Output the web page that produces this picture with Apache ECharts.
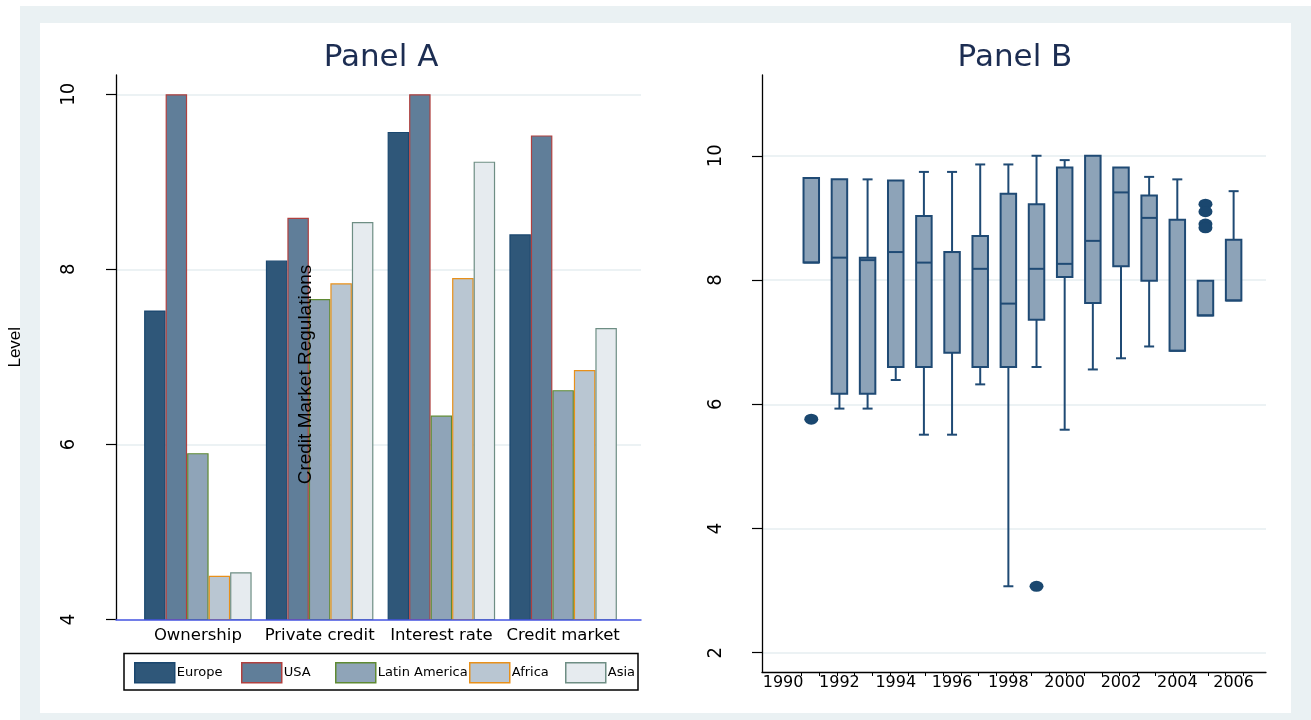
<!DOCTYPE html>
<html>
<head>
<meta charset="utf-8">
<script src="https://cdn.jsdelivr.net/npm/echarts@6.0.0/dist/echarts.min.js"></script>
<style>
html,body{margin:0;padding:0;background:#ffffff;}
#main{width:1311px;height:720px;}
</style>
</head>
<body>
<div id="main"></div>
<script>
// ---------- Panel A data ----------
const categories = ['Ownership', 'Private credit', 'Interest rate', 'Credit market'];
const regionNames = ['Europe', 'USA', 'Latin America', 'Africa', 'Asia'];
const europe = [7.53, 8.10, 9.57, 8.40];
const usa = [10.0, 8.59, 10.0, 9.53];
const latinAmerica = [5.90, 7.66, 6.33, 6.62];
const africa = [4.50, 7.84, 7.90, 6.85];
const asia = [4.54, 8.54, 9.23, 7.33];
const panelATicks = [4, 6, 8, 10];

// ---------- Panel B data (box plots by year) ----------
const years = [1991, 1992, 1993, 1994, 1995, 1996, 1997, 1998, 1999, 2000, 2001, 2002, 2003, 2004, 2005, 2006];
const lowWhisker = [8.28, 5.93, 5.93, 6.39, 5.51, 5.51, 6.32, 3.07, 6.60, 5.59, 6.56, 6.74, 6.93, 6.86, 7.43, 7.67];
const q1 = [8.28, 6.17, 6.17, 6.60, 6.60, 6.83, 6.60, 6.60, 7.36, 8.05, 7.63, 8.22, 7.99, 6.86, 7.43, 7.67];
const median = [8.28, 8.36, 8.32, 8.45, 8.28, 8.45, 8.18, 7.62, 8.18, 8.26, 8.63, 9.41, 9.00, 6.86, 7.43, 7.67];
const q3 = [9.64, 9.62, 8.36, 9.60, 9.03, 8.45, 8.71, 9.39, 9.22, 9.81, 10.0, 9.81, 9.36, 8.97, 7.99, 8.65];
const highWhisker = [9.64, 9.62, 9.62, 9.60, 9.74, 9.74, 9.86, 9.86, 10.0, 9.93, 10.0, 9.81, 9.66, 9.62, 7.99, 9.43];
const outlierYears = [1991, 1999, 2005, 2005, 2005, 2005];
const outlierValues = [5.76, 3.07, 9.22, 9.10, 8.90, 8.84];
const yearLabels = [1990, 1992, 1994, 1996, 1998, 2000, 2002, 2004, 2006];
const yearTicks = [1990.66, 1991.29, 1991.92, 1992.54, 1993.17, 1993.80, 1994.43, 1995.05, 1995.68,
  1996.31, 1996.94, 1997.56, 1998.19, 1998.82, 1999.44, 2000.07, 2000.70, 2001.33, 2001.95,
  2002.58, 2003.21, 2003.84, 2004.46, 2005.09, 2005.72, 2006.35];
const panelBTicks = [2, 4, 6, 8, 10];

// ---------- styles / layout ----------
const fills = ['#2f5779', '#607e99', '#8fa4b8', '#b9c6d2', '#e6ebef'];
const borders = ['#1a476f', '#b0403f', '#5f8a33', '#e8901a', '#6e8e84'];
const gridColor = '#e6eef0';
const frameColor = '#eaf1f3';
const boxFill = '#8da3b8';
const boxLine = '#1f4a74';
const wideFont = '"DejaVu Sans", Verdana, sans-serif';
const narrowFont = '"Liberation Sans Narrow", "DejaVu Sans Condensed", "Liberation Sans", Arial, sans-serif';
const plainFont = '"Liberation Sans", Arial, sans-serif';
const regionSeries = [europe, usa, latinAmerica, africa, asia];
const legendItemLeft = [134, 241, 335, 469, 565];

const boxData = years.map((y, i) => [y, lowWhisker[i], q1[i], median[i], q3[i], highWhisker[i]]);
const outlierData = outlierYears.map((y, i) => [y, outlierValues[i]]);

const chart = echarts.init(document.getElementById('main'), null, {renderer: 'canvas'});

const barSeries = regionNames.map((name, i) => ({
  name: name,
  type: 'bar',
  xAxisIndex: 1,
  yAxisIndex: 1,
  data: regionSeries[i],
  barGap: '0%',
  barCategoryGap: '11.7%',
  itemStyle: {color: fills[i], borderColor: borders[i], borderWidth: 1.2},
  emphasis: {disabled: true},
  z: 2
}));

const legends = regionNames.map((name, i) => ({
  left: legendItemLeft[i],
  top: 662,
  orient: 'horizontal',
  itemWidth: 40,
  itemHeight: 20,
  padding: 0,
  icon: 'rect',
  selectedMode: false,
  itemStyle: {borderWidth: 1.5},
  textStyle: {fontFamily: wideFont, fontSize: 13, color: '#000000', padding: [0, 0, 0, -3]},
  data: [name]
}));

function renderBox(params, api) {
  const x = api.value(0);
  const pLo = api.coord([x, api.value(1)]);
  const pQ1 = api.coord([x, api.value(2)]);
  const pMed = api.coord([x, api.value(3)]);
  const pQ3 = api.coord([x, api.value(4)]);
  const pHi = api.coord([x, api.value(5)]);
  const half = 7.75, cap = 5;
  const cx = pQ1[0];
  const ls = {stroke: boxLine, lineWidth: 2};
  const children = [];
  if (pLo[1] - pQ1[1] > 0.5) {
    children.push({type: 'line', shape: {x1: cx, y1: pQ1[1], x2: cx, y2: pLo[1]}, style: ls});
    children.push({type: 'line', shape: {x1: cx - cap, y1: pLo[1], x2: cx + cap, y2: pLo[1]}, style: ls});
  }
  if (pQ3[1] - pHi[1] > 0.5) {
    children.push({type: 'line', shape: {x1: cx, y1: pQ3[1], x2: cx, y2: pHi[1]}, style: ls});
    children.push({type: 'line', shape: {x1: cx - cap, y1: pHi[1], x2: cx + cap, y2: pHi[1]}, style: ls});
  }
  children.push({type: 'rect', shape: {x: cx - half, y: pQ3[1], width: half * 2, height: pQ1[1] - pQ3[1]}, style: {fill: boxFill, stroke: boxLine, lineWidth: 2}});
  children.push({type: 'line', shape: {x1: cx - half, y1: pMed[1], x2: cx + half, y2: pMed[1]}, style: ls});
  return {type: 'group', children: children};
}

const option = {
  animation: false,
  backgroundColor: '#ffffff',
  graphic: [
    {type: 'rect', silent: true, z: -10, shape: {x: 20, y: 6, width: 1291, height: 714}, style: {fill: frameColor}},
    {type: 'rect', silent: true, z: -9, shape: {x: 40, y: 23, width: 1251, height: 690}, style: {fill: '#ffffff'}},
    {type: 'rect', silent: true, z: 10, shape: {x: 124, y: 653.5, width: 514, height: 36.5}, style: {fill: 'none', stroke: '#000000', lineWidth: 1.5}},
    {type: 'text', silent: true, z: 50, x: 381, y: 58, style: {text: 'Panel A', fill: '#1c2d52', font: '31px ' + wideFont, textAlign: 'center', textVerticalAlign: 'middle'}},
    {type: 'text', silent: true, z: 50, x: 1015, y: 58, style: {text: 'Panel B', fill: '#1c2d52', font: '31px ' + wideFont, textAlign: 'center', textVerticalAlign: 'middle'}},
    {type: 'text', silent: true, z: 100, x: 306, y: 374.5, rotation: Math.PI / 2, style: {text: 'Credit Market Regulations', fill: '#000000', font: '19px ' + plainFont, textAlign: 'center', textVerticalAlign: 'middle'}}
  ],
  grid: [
    {left: 116, right: 670, top: 75, bottom: 100.5, containLabel: false, outerBoundsMode: 'none'},
    {left: 137, right: 687, top: 75, bottom: 100.5, containLabel: false, outerBoundsMode: 'none'},
    {left: 762, right: 45, top: 75, bottom: 48, containLabel: false, outerBoundsMode: 'none'}
  ],
  legend: legends,
  xAxis: [
    {
      gridIndex: 0, type: 'value', min: 0, max: 1, z: 5,
      axisLine: {show: true, onZero: false, lineStyle: {color: '#4a58e4', width: 1.5}},
      axisTick: {show: false}, axisLabel: {show: false}, splitLine: {show: false}
    },
    {
      gridIndex: 1, type: 'category', data: categories, boundaryGap: true,
      axisLine: {show: false}, axisTick: {show: false},
      axisLabel: {interval: 0, margin: 8, fontFamily: wideFont, fontSize: 16.5, color: '#000000'},
      splitLine: {show: false}
    },
    {
      gridIndex: 2, type: 'value', min: 1989.25, max: 2007.15,
      axisLine: {show: true, onZero: false, lineStyle: {color: '#000000', width: 1.3}},
      axisTick: {show: true, inside: false, length: 4, customValues: yearTicks, lineStyle: {color: '#000000', width: 1}},
      axisLabel: {customValues: yearLabels, formatter: v => String(Math.round(v)), margin: 3, fontFamily: wideFont, fontSize: 16, color: '#000000'},
      splitLine: {show: false}
    }
  ],
  yAxis: [
    {
      gridIndex: 0, type: 'value', min: 4, max: 10.22,
      name: 'Level', nameLocation: 'middle', nameRotate: 90, nameGap: 92,
      nameTextStyle: {fontFamily: plainFont, fontSize: 17, color: '#000000'},
      axisLine: {show: true, onZero: false, lineStyle: {color: '#000000', width: 1.3}},
      axisTick: {show: true, inside: false, length: 10, customValues: panelATicks, lineStyle: {color: '#000000', width: 1.2}},
      axisLabel: {customValues: panelATicks, rotate: 90, margin: 37, fontFamily: narrowFont, fontSize: 20, color: '#000000'},
      splitLine: {show: true, lineStyle: {color: gridColor, width: 1.5}}
    },
    {
      gridIndex: 1, type: 'value', min: 4, max: 10.22,
      axisLine: {show: false}, axisTick: {show: false}, axisLabel: {show: false}, splitLine: {show: false}
    },
    {
      gridIndex: 2, type: 'value', min: 1.69, max: 11.3,
      axisLine: {show: true, onZero: false, lineStyle: {color: '#000000', width: 1.3}},
      axisTick: {show: true, inside: false, length: 10, customValues: panelBTicks, lineStyle: {color: '#000000', width: 1.2}},
      axisLabel: {customValues: panelBTicks, rotate: 90, margin: 36, fontFamily: narrowFont, fontSize: 20, color: '#000000'},
      splitLine: {show: true, lineStyle: {color: gridColor, width: 1.5}}
    }
  ],
  series: barSeries.concat([
    {
      name: 'Distribution',
      type: 'custom',
      xAxisIndex: 2,
      yAxisIndex: 2,
      data: boxData,
      encode: {x: 0, y: [1, 2, 3, 4, 5]},
      renderItem: renderBox,
      clip: false,
      z: 3
    },
    {
      name: 'Outliers',
      type: 'scatter',
      xAxisIndex: 2,
      yAxisIndex: 2,
      data: outlierData,
      symbol: 'circle',
      symbolSize: [14, 11],
      itemStyle: {color: '#1a476f', opacity: 1},
      emphasis: {disabled: true},
      z: 4
    }
  ])
};
chart.setOption(option);
</script>
</body>
</html>
